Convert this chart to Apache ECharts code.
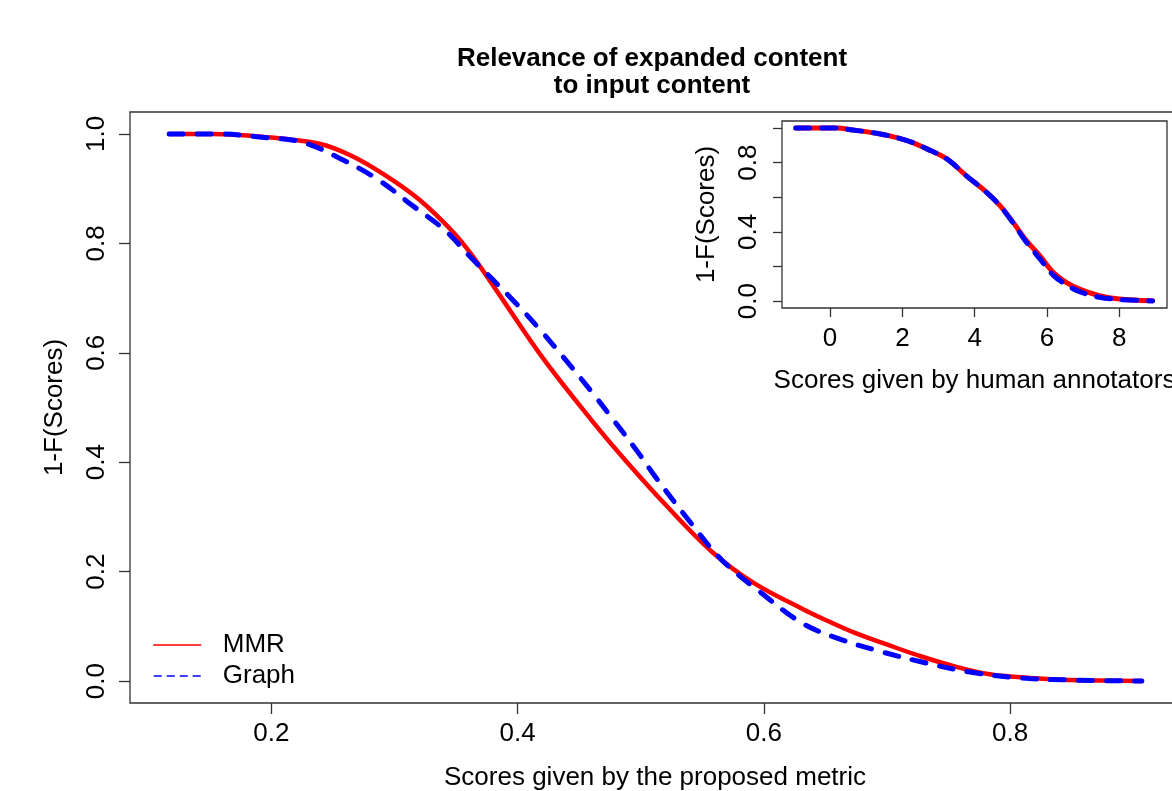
<!DOCTYPE html>
<html><head><meta charset="utf-8">
<script src="https://cdn.jsdelivr.net/npm/echarts@6/dist/echarts.min.js"></script>
<style>html,body{margin:0;padding:0;background:#fff}#c{width:1172px;height:791px}</style>
</head><body><div id="c"></div>
<script>
// ---- data ----
const titleText = 'Relevance of expanded content\nto input content';
const mainXName = 'Scores given by the proposed metric';
const mainYName = '1-F(Scores)';
const insetXName = 'Scores given by human annotators';
const insetYName = '1-F(Scores)';

const mainXTicks = [0.2, 0.4, 0.6, 0.8];
const mainYTicks = [0.0, 0.2, 0.4, 0.6, 0.8, 1.0];
const insetXTicks = [0, 2, 4, 6, 8];
const insetYTicks = [0.0, 0.2, 0.4, 0.6, 0.8, 1.0];
const insetYLabels = [0.0, 0.4, 0.8];

const mmrX = [0.117, 0.152, 0.192, 0.239, 0.265, 0.292, 0.320, 0.347, 0.363, 0.381, 0.420, 0.460, 0.485, 0.519, 0.558, 0.592, 0.633, 0.647, 0.674, 0.701, 0.728, 0.755, 0.782, 0.809, 0.836, 0.872, 0.907];
const mmrY = [1.000, 1.000, 0.995, 0.982, 0.960, 0.925, 0.880, 0.822, 0.778, 0.720, 0.592, 0.477, 0.410, 0.325, 0.236, 0.179, 0.130, 0.115, 0.088, 0.066, 0.045, 0.027, 0.013, 0.007, 0.003, 0.001, 0.000];

const graphX = [0.117, 0.157, 0.192, 0.225, 0.255, 0.287, 0.314, 0.341, 0.360, 0.398, 0.419, 0.439, 0.460, 0.479, 0.4985, 0.512, 0.539, 0.566, 0.598, 0.631, 0.660, 0.695, 0.730, 0.766, 0.807, 0.850, 0.907];
const graphY = [1.000, 1.000, 0.994, 0.985, 0.956, 0.916, 0.870, 0.824, 0.779, 0.692, 0.640, 0.587, 0.529, 0.474, 0.416, 0.373, 0.294, 0.221, 0.161, 0.106, 0.078, 0.054, 0.034, 0.017, 0.006, 0.002, 0.000];

const insetMmrX = [-0.95, 0.2, 0.57, 1.39, 2.13, 2.68, 3.23, 3.78, 4.33, 4.70, 5.06, 5.43, 5.80, 6.17, 6.53, 6.90, 7.45, 8.00, 8.92];
const insetMmrY = [1.000, 1.000, 0.990, 0.965, 0.927, 0.879, 0.821, 0.722, 0.628, 0.551, 0.455, 0.349, 0.262, 0.166, 0.108, 0.069, 0.031, 0.012, 0.002];

const insetGraphX = [-0.95, 0.2, 0.57, 1.39, 2.13, 2.68, 3.23, 3.78, 4.33, 4.70, 5.06, 5.43, 5.80, 6.17, 6.53, 6.90, 7.45, 8.00, 8.92];
const insetGraphY = [1.000, 1.000, 0.990, 0.965, 0.927, 0.879, 0.821, 0.722, 0.628, 0.551, 0.452, 0.340, 0.245, 0.150, 0.095, 0.055, 0.022, 0.009, 0.001];

// ---- chart ----
function pairs(xs, ys) { return xs.map((x, i) => [x, ys[i]]); }
const FONT = '"Liberation Sans", Arial, sans-serif';
const lbl = { fontFamily: FONT, fontSize: 26, color: '#000' };
const AX = '#333';
const noLine = { show: false, onZero: false };

const chart = echarts.init(document.getElementById('c'), null, { renderer: 'canvas' });
const option = {
  animation: false,
  backgroundColor: '#fff',
  title: {
    text: titleText, left: 647, top: 40, textAlign: 'center',
    textStyle: { fontFamily: FONT, fontSize: 26, fontWeight: 'bold', lineHeight: 27, color: '#000' }
  },
  legend: {
    orient: 'vertical', left: 153, top: 632, padding: 0, itemWidth: 47, itemHeight: 14, itemGap: 5,
    textStyle: { fontFamily: FONT, fontSize: 26, color: '#000', padding: [0, 0, 0, 17], lineHeight: 25 },
    data: [
      { name: 'MMR', itemStyle: { opacity: 0 }, lineStyle: { width: 1.5, type: 'solid' } },
      { name: 'Graph', itemStyle: { opacity: 0 }, lineStyle: { width: 1.5, type: [8, 5], cap: 'butt' } }
    ]
  },
  grid: [
    { left: 130, top: 112, width: 1050, height: 591, outerBoundsMode: 'none', containLabel: false,
      show: true, borderColor: AX, borderWidth: 1.3, backgroundColor: 'transparent' },
    { left: 782, top: 121, width: 385, height: 187, outerBoundsMode: 'none', containLabel: false,
      show: true, borderColor: AX, borderWidth: 1.3, backgroundColor: '#fff', z: 5 }
  ],
  xAxis: [
    {
      type: 'value', gridIndex: 0, min: 0.0852, max: 0.938,
      axisLine: noLine, splitLine: { show: false },
      axisTick: { show: true, inside: false, length: 11, lineStyle: { color: AX, width: 1.3 }, customValues: mainXTicks },
      axisLabel: Object.assign({}, lbl, { margin: 18, customValues: mainXTicks, formatter: v => v.toFixed(1) }),
      name: mainXName, nameLocation: 'middle', nameGap: 62, nameTextStyle: lbl
    },
    {
      type: 'value', gridIndex: 1, min: -1.33, max: 9.32, z: 6,
      axisLine: noLine, splitLine: { show: false },
      axisTick: { show: true, inside: false, length: 9, lineStyle: { color: AX, width: 1.3 }, customValues: insetXTicks },
      axisLabel: Object.assign({}, lbl, { margin: 18, customValues: insetXTicks, formatter: v => String(v) }),
      name: insetXName, nameLocation: 'middle', nameGap: 60, nameTextStyle: lbl
    }
  ],
  yAxis: [
    {
      type: 'value', gridIndex: 0, min: -0.04, max: 1.04,
      axisLine: noLine, splitLine: { show: false },
      axisTick: { show: true, inside: false, length: 11, lineStyle: { color: AX, width: 1.3 }, customValues: mainYTicks },
      axisLabel: Object.assign({}, lbl, { margin: 20, rotate: 90, customValues: mainYTicks, formatter: v => v.toFixed(1) }),
      name: mainYName, nameLocation: 'middle', nameGap: 62, nameTextStyle: lbl
    },
    {
      type: 'value', gridIndex: 1, min: -0.04, max: 1.04, z: 6,
      axisLine: noLine, splitLine: { show: false },
      axisTick: { show: true, inside: false, length: 9, lineStyle: { color: AX, width: 1.3 }, customValues: insetYTicks },
      axisLabel: Object.assign({}, lbl, { margin: 20, rotate: 90, customValues: insetYLabels, formatter: v => v.toFixed(1) }),
      name: insetYName, nameLocation: 'middle', nameGap: 62, nameTextStyle: lbl
    }
  ],
  series: [
    {
      name: 'MMR', type: 'line', xAxisIndex: 0, yAxisIndex: 0, data: pairs(mmrX, mmrY),
      symbol: 'none', smooth: 0.35, color: '#ff0000',
      lineStyle: { color: '#ff0000', width: 4.5, cap: 'round', join: 'round' }, z: 2
    },
    {
      name: 'Graph', type: 'line', xAxisIndex: 0, yAxisIndex: 0, data: pairs(graphX, graphY),
      symbol: 'none', smooth: 0.35, color: '#0000ff',
      lineStyle: { color: '#0000ff', width: 5, type: [14, 14], cap: 'round', join: 'round' }, z: 3
    },
    {
      name: 'MMR (human)', type: 'line', xAxisIndex: 1, yAxisIndex: 1, data: pairs(insetMmrX, insetMmrY),
      symbol: 'none', smooth: 0.35, color: '#ff0000',
      lineStyle: { color: '#ff0000', width: 5, cap: 'round', join: 'round' }, z: 7
    },
    {
      name: 'Graph (human)', type: 'line', xAxisIndex: 1, yAxisIndex: 1, data: pairs(insetGraphX, insetGraphY),
      symbol: 'none', smooth: 0.35, color: '#0000ff',
      lineStyle: { color: '#0000ff', width: 5, type: [14, 12], cap: 'round', join: 'round' }, z: 8
    }
  ]
};
chart.setOption(option);
</script></body></html>
